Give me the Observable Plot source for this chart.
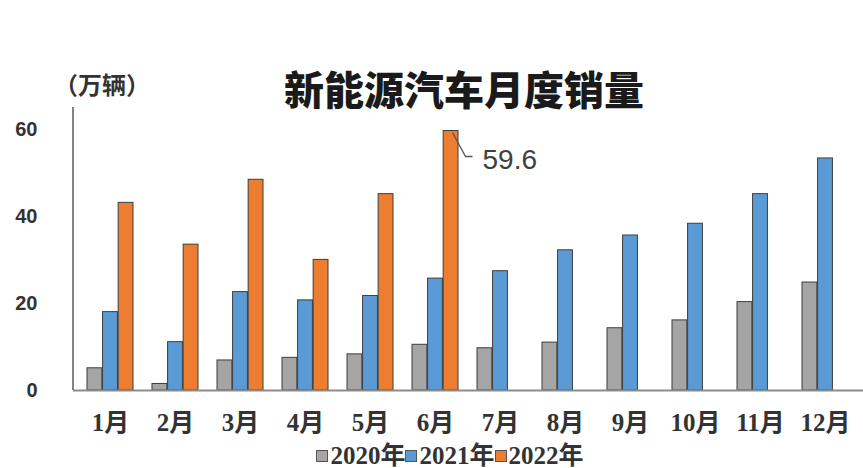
<!DOCTYPE html>
<html>
<head>
<meta charset="utf-8">
<script src="https://cdn.jsdelivr.net/npm/d3@7"></script>
<script src="https://cdn.jsdelivr.net/npm/@observablehq/plot@0.6"></script>
<style>
  html, body { margin: 0; padding: 0; background: #fff; }
  #wrap { position: relative; width: 863px; height: 468px; overflow: hidden; }
  #title { position: absolute; left: 0; width: 928px; top: 63px; text-align: center;
    font-family: "Noto Sans CJK SC", sans-serif; font-weight: 900; font-size: 40px; color: #1a1a1a; line-height: 50px; }
  #unit { position: absolute; left: 54px; top: 68px; font-family: "Noto Sans CJK SC", serif; font-weight: 700;
    font-size: 24px; color: #333; line-height: 32px; }
  #legend { position: absolute; left: 0; width: 900px; top: 441px; text-align: center;
    font-family: "Liberation Serif", "Noto Sans CJK SC", serif; font-weight: 700; font-size: 25px; color: #333; line-height: 30px; }
  #legend .sw { display: inline-block; width: 10px; height: 10px; border: 1px solid #555; margin: 0 2px 0 0; vertical-align: 2px; }
</style>
</head>
<body>
<div id="wrap">
  <div id="chart"></div>
  <div id="title">新能源汽车月度销量</div>
  <div id="unit">（万辆）</div>
  <div id="legend"></div>
</div>
<script>
const months = ["1月","2月","3月","4月","5月","6月","7月","8月","9月","10月","11月","12月"];
const years = ["2020年","2021年","2022年"];
const sales2020 = [5.1, 1.5, 6.9, 7.5, 8.3, 10.5, 9.7, 11.0, 14.3, 16.1, 20.3, 24.8];
const sales2021 = [18.0, 11.1, 22.6, 20.7, 21.7, 25.7, 27.4, 32.2, 35.6, 38.3, 45.1, 53.3];
const sales2022 = [43.1, 33.5, 48.4, 30.0, 45.1, 59.6];
const yTicks = [0, 20, 40, 60];
const labelMonth = "6月";
const labelValue = 59.6;

const colors = ["#a5a5a5", "#5b9bd5", "#ed7d31"];
const series = [sales2020, sales2021, sales2022];

const W = 863, H = 468, ML = 73, MR = 0, MT = 107, MB = 78;
const padIn = 0.29, padOut = 0.145;
const step = (W - ML - MR) / (months.length - padIn + 2 * padOut);
const bw = step * (1 - padIn);
const third = bw / 3;

const rows = series.map((vals, i) => vals.map((v, j) => ({month: months[j], year: years[i], value: v})));

const barMarks = rows.map((data, i) => Plot.barY(data, {
  x: "month", y: "value", fill: colors[i], stroke: "#3d3d3d", strokeWidth: 1,
  insetLeft: i * third, insetRight: (2 - i) * third
}));

const chart = Plot.plot({
  width: W, height: H,
  marginLeft: ML, marginRight: MR, marginTop: MT, marginBottom: MB,
  style: {background: "transparent", color: "#333"},
  x: {domain: months, paddingInner: padIn, paddingOuter: padOut, align: 0.5, label: null},
  y: {domain: [0, 65], label: null},
  marks: [
    ...barMarks,
    Plot.ruleY([0], {stroke: "#8c8c8c", strokeWidth: 2}),
    Plot.axisY({ticks: yTicks, tickSize: 0, tickPadding: 36, fontSize: 20, fontWeight: "bold",
      fontFamily: "Liberation Sans, Arial, sans-serif", label: null}),
    Plot.axisX({tickSize: 0, tickPadding: 23, fontSize: 25, fontWeight: "bold",
      fontFamily: "Liberation Serif, Noto Sans CJK SC, serif", label: null}),
    Plot.text([{month: labelMonth, value: labelValue}], {
      x: "month", y: "value", text: d => String(d.value), textAnchor: "start",
      dx: 47, dy: 29, fontSize: 28, fill: "#404040", fontFamily: "Liberation Sans, Arial, sans-serif"
    })
  ]
});

document.getElementById("chart").appendChild(chart);

// axis line and annotation leader, positioned via the chart's scales
const xs = chart.scale("x"), ys = chart.scale("y");
const svg = d3.select(chart);
svg.append("line")
  .attr("x1", ML).attr("x2", ML)
  .attr("y1", ys.apply(65)).attr("y2", ys.apply(0))
  .attr("stroke", "#595959").attr("stroke-width", 1.5);
const bx = xs.apply(labelMonth) + 2 * third + third * 0.6;
const by = ys.apply(labelValue);
svg.append("path")
  .attr("d", `M${bx},${by + 2} L${bx + 13},${by + 26} L${bx + 20},${by + 26}`)
  .attr("fill", "none").attr("stroke", "#555").attr("stroke-width", 1.3);

// legend
const lg = document.getElementById("legend");
lg.innerHTML = years.map((y, i) =>
  `<span class="sw" style="background:${colors[i]}"></span>${y}`).join("");
</script>
</body>
</html>
